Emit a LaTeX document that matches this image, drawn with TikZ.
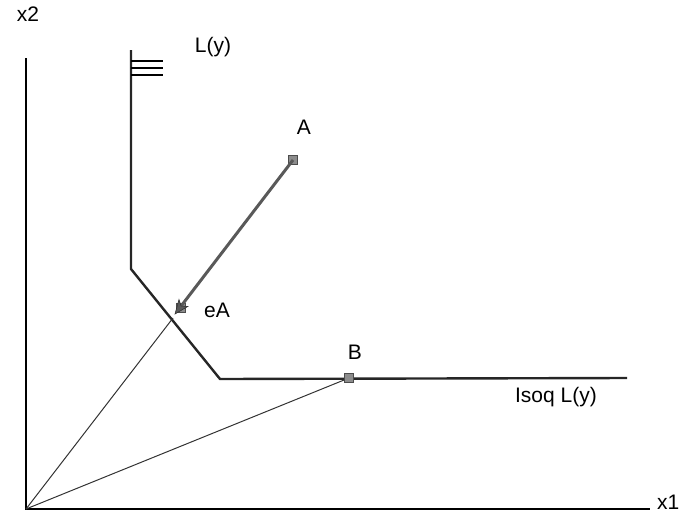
\documentclass[tikz,border=0pt]{standalone}
\usepackage{fontspec}
\setmainfont{Liberation Sans}
\usetikzlibrary{calc}
\begin{document}
\begin{tikzpicture}[x=1pt,y=1pt,yscale=-1,
  axis/.style={line width=2.2pt,black},
  isoq/.style={line width=2.4pt,black!85},
  thinray/.style={line width=1pt,black!80},
  arr/.style={line width=3pt,black!65},
  tipfill/.style={fill=black!65,draw=black!80,line width=0.6pt},
  ptmark/.style={fill=black!45,draw=black!70,line width=0.6pt,minimum size=9pt,inner sep=0pt},
  lbl/.style={font=\fontsize{21}{24}\selectfont,inner sep=0pt}]
\useasboundingbox (0,0) rectangle (686,515);
% axes
\coordinate (O) at (26,509);
\coordinate (Ytop) at (26,58);
\coordinate (Xend) at (650,509);
\draw[axis] (Ytop) -- (O) -- (Xend);
\node[lbl] (x2) at (28,14) {x2};
\node[lbl,anchor=west] (x1) at (657,502) {x1};
% isoquant
\coordinate (I0) at (131,50);
\coordinate (I1) at (131,269);
\coordinate (I2) at (220,379);
\coordinate (I3) at (627,378);
\draw[isoq] (I0) -- (I1) -- (I2) -- (I3);
% hatch lines
\coordinate (h1a) at (131,61); \coordinate (h1b) at (163,61);
\coordinate (h2a) at (131,68); \coordinate (h2b) at (163,68);
\coordinate (h3a) at (131,75); \coordinate (h3b) at (163,75);
\draw[line width=1.8pt] (h1a) -- (h1b) (h2a) -- (h2b) (h3a) -- (h3b);
\node[lbl] (Ly) at (213,47) {L(y)};
\node[lbl] (isoqlbl) at (556,397) {Isoq L(y)};
% points
\node[ptmark] (A) at (293,160) {};
\node[lbl] (Alab) at (304,127) {A};
\node[ptmark] (eAm) at (181,308) {};
\coordinate (eA) at (175,314);
\coordinate (cross) at (173,318);
\node[lbl] (eAlab) at (217,310) {eA};
\node[ptmark] (B) at (349,378) {};
\node[lbl] (Blab) at (355,352) {B};
% rays
\draw[thinray] (O) -- (cross);
\draw[thinray] (O) -- (B);
% arrow
\draw[arr] (A.center) -- ($(eA)!10pt!(A.center)$);
\fill[tipfill] (eA) -- ($(eA)!15pt!22:(A.center)$) -- ($(eA)!10pt!(A.center)$) -- ($(eA)!15pt!-22:(A.center)$) -- cycle;
\end{tikzpicture}
\end{document}
